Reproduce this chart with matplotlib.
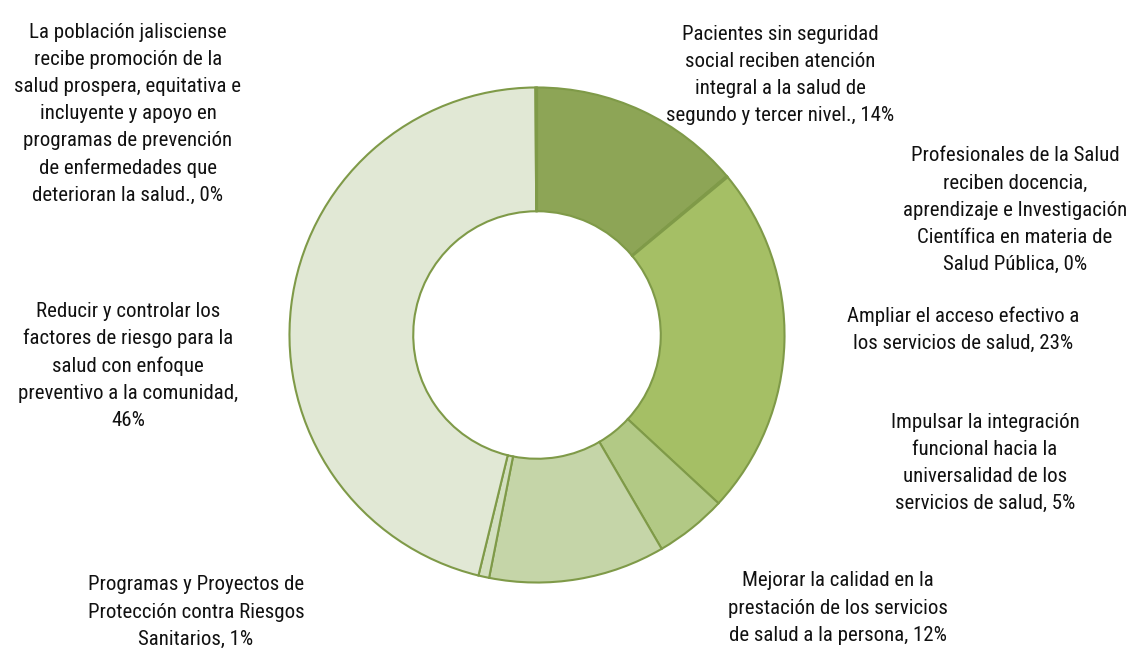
import matplotlib.pyplot as plt
from matplotlib import font_manager

# slice shares (clockwise from 12 o'clock)
labels = [
    "Pacientes sin seguridad\nsocial reciben atención\nintegral a la salud de\nsegundo y tercer nivel., 14%",
    "Profesionales de la Salud\nreciben docencia,\naprendizaje e Investigación\nCientífica en materia de\nSalud Pública, 0%",
    "Ampliar el acceso efectivo a\nlos servicios de salud, 23%",
    "Impulsar la integración\nfuncional hacia la\nuniversalidad de los\nservicios de salud, 5%",
    "Mejorar la calidad en la\nprestación de los servicios\nde salud a la persona, 12%",
    "Programas y Proyectos de\nProtección contra Riesgos\nSanitarios, 1%",
    "Reducir y controlar los\nfactores de riesgo para la\nsalud con enfoque\npreventivo a la comunidad,\n46%",
    "La población jalisciense\nrecibe promoción de la\nsalud prospera, equitativa e\nincluyente y apoyo en\nprogramas de prevención\nde enfermedades que\ndeterioran la salud., 0%",
]
values = [13.9, 0.1, 22.9, 4.7, 11.5, 0.7, 46.1, 0.1]
colors = ["#8da556", "#97b05c", "#a5bf65", "#b2c985", "#c5d5a8",
          "#d3dfbf", "#e1e8d5", "#e4ebd9"]

# label anchor (figure pixels, from top-left)
label_xy = [(780, 75), (1015, 210), (963, 330), (985, 463),
            (838, 608), (196, 612), (128, 366), (128, 114)]

# look for a condensed sans face, the original uses one
pref = ["Liberation Sans Narrow", "Roboto Condensed", "Open Sans Condensed",
        "Noto Sans", "Open Sans", "Roboto", "DejaVu Sans", "Liberation Sans"]
cands = [f for f in font_manager.fontManager.ttflist
         if f.stretch in ("condensed", "semi-condensed")
         and f.style == "normal" and f.weight in (400, "normal", "regular")
         and f.name in pref]
cands.sort(key=lambda f: pref.index(f.name))
if cands:
    fp = font_manager.FontProperties(fname=cands[0].fname, size=15)
    lsp = 1.54
else:
    fp = font_manager.FontProperties(family="DejaVu Sans", size=12.5)
    lsp = 1.75

W, H = 1131, 648
fig = plt.figure(figsize=(W / 100, H / 100), dpi=100)
ax = fig.add_axes([(537 - 250) / W, 1 - (335 + 250) / H, 500 / W, 500 / H])
ax.pie(values, colors=colors, startangle=90, counterclock=False,
       radius=1.0,
       wedgeprops=dict(width=0.5, edgecolor="#7f9a48", linewidth=1.5))
ax.set_aspect("equal")
ax.set_xlim(-1.01, 1.01)
ax.set_ylim(-1.01, 1.01)
ax.axis("off")

for lab, (x, y) in zip(labels, label_xy):
    fig.text(x / W, 1 - y / H, lab, ha="center", va="center",
             fontproperties=fp, color="#111111", linespacing=lsp)

fig.savefig("out.png", dpi=100)
